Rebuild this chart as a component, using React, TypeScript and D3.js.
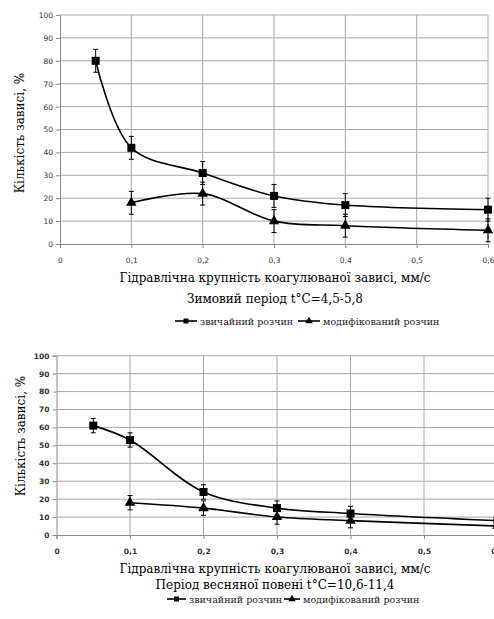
import * as d3 from "d3";
import { useEffect, useRef } from "react";

// x positions (mm/s)
const xTicks = [0, 0.1, 0.2, 0.3, 0.4, 0.5, 0.6];
const yTicks = [0, 10, 20, 30, 40, 50, 60, 70, 80, 90, 100];
const plainX = [0.05, 0.1, 0.2, 0.3, 0.4, 0.6];
const modX = [0.1, 0.2, 0.3, 0.4, 0.6];

// winter period
const winterPlain = [80, 42, 31, 21, 17, 15];
const winterMod = [18, 22, 10, 8, 6];
const winterErr = 5;

// spring flood period
const springPlain = [61, 53, 24, 15, 12, 8];
const springMod = [18, 15, 10, 8, 5];
const springErr = 4;

const xTitle = "Гідравлічна крупність коагулюваної зависі, мм/с";
const yTitle = "Кількість зависі, %";
const legendNames = ["звичайний розчин", "модифікований розчин"];

const serif = "DejaVu Serif, Liberation Serif, serif";
const sans = "DejaVu Sans, Verdana, sans-serif";

function drawPanel(svg, p) {
  const g = svg.append("g");
  const x = d3.scaleLinear().domain([0, 0.6]).range([p.left, p.right]);
  const y = d3.scaleLinear().domain([0, 100]).range([p.bottom, p.top]);

  // grid
  g.selectAll(".hg").data(yTicks.slice(1)).enter().append("line")
    .attr("x1", p.left).attr("x2", p.right)
    .attr("y1", (d) => y(d)).attr("y2", (d) => y(d))
    .attr("stroke", "#a8a8a8").attr("stroke-width", 1);
  g.selectAll(".vg").data(xTicks.slice(1)).enter().append("line")
    .attr("x1", (d) => x(d)).attr("x2", (d) => x(d))
    .attr("y1", p.top).attr("y2", p.bottom)
    .attr("stroke", "#a8a8a8").attr("stroke-width", 1);

  // axes
  const yAxis = g.append("g").attr("transform", `translate(${p.left},0)`)
    .call(d3.axisLeft(y).tickValues(yTicks).tickSize(4).tickPadding(3));
  const xAxis = g.append("g").attr("transform", `translate(0,${p.bottom})`)
    .call(d3.axisBottom(x).tickValues(xTicks).tickSize(4).tickPadding(p.xPad)
      .tickFormat((d) => String(d).replace(".", ",")));
  [yAxis, xAxis].forEach((a) => {
    a.select(".domain").attr("stroke", "#8c8c8c");
    a.selectAll(".tick line").attr("stroke", "#8c8c8c");
    a.selectAll("text").attr("fill", "#333")
      .attr("font-family", sans)
      .attr("font-size", p.tickSize)
      .attr("font-weight", p.tickWeight);
  });

  const line = d3.line().curve(d3.curveCatmullRom.alpha(0.5))
    .x((d) => x(d[0])).y((d) => y(d[1]));

  const series = [
    { xs: plainX, ys: p.plain, shape: "square" },
    { xs: modX, ys: p.mod, shape: "triangle" },
  ];
  series.forEach((s) => {
    const pts = s.xs.map((v, i) => [v, s.ys[i]]);
    g.append("path").datum(pts).attr("d", line)
      .attr("fill", "none").attr("stroke", "#000").attr("stroke-width", 1.6);
    // error bars
    pts.forEach(([vx, vy]) => {
      const cx = x(vx);
      g.append("line").attr("x1", cx).attr("x2", cx)
        .attr("y1", y(vy - p.err)).attr("y2", y(vy + p.err))
        .attr("stroke", "#000").attr("stroke-width", 1);
      [vy - p.err, vy + p.err].forEach((e) => {
        g.append("line").attr("x1", cx - 2.5).attr("x2", cx + 2.5)
          .attr("y1", y(e)).attr("y2", y(e))
          .attr("stroke", "#000").attr("stroke-width", 1);
      });
    });
    const sym = d3.symbol()
      .type(s.shape === "square" ? d3.symbolSquare : d3.symbolTriangle)
      .size(s.shape === "square" ? 64 : 48);
    g.selectAll(".m").data(pts).enter().append("path")
      .attr("d", sym)
      .attr("transform", (d) => `translate(${x(d[0])},${y(d[1])})`)
      .attr("fill", "#000");
  });

  // titles
  g.append("text").attr("x", p.titleX).attr("y", p.titleY)
    .attr("text-anchor", "middle").attr("font-family", serif)
    .attr("font-size", 12).text(xTitle);
  g.append("text").attr("x", p.titleX).attr("y", p.subY)
    .attr("text-anchor", "middle").attr("font-family", serif)
    .attr("font-size", 12).text(p.subtitle);
  g.append("text")
    .attr("transform", `translate(${p.yTitleX},${p.yTitleY}) rotate(-90)`)
    .attr("text-anchor", "middle").attr("font-family", serif)
    .attr("font-size", 12).text(yTitle);

  // legend
  p.legend.forEach((l, i) => {
    g.append("line").attr("x1", l.x1).attr("x2", l.x2)
      .attr("y1", p.legY).attr("y2", p.legY)
      .attr("stroke", "#000").attr("stroke-width", 1.6);
    const sym = d3.symbol().type(i === 0 ? d3.symbolSquare : d3.symbolTriangle)
      .size(i === 0 ? 25 : 24);
    g.append("path").attr("d", sym)
      .attr("transform", `translate(${(l.x1 + l.x2) / 2},${p.legY})`);
    g.append("text").attr("x", l.x2 + 3).attr("y", p.legY + 3.5)
      .attr("font-family", serif).attr("font-size", 9.5)
      .attr("fill", "#222").text(legendNames[i]);
  });
}

const App = () => {
  const ref = useRef(null);
  useEffect(() => {
    const svg = d3.select(ref.current);
    svg.selectAll("*").remove();
    drawPanel(svg, {
      left: 60, right: 488, top: 15, bottom: 244,
      plain: winterPlain, mod: winterMod, err: winterErr,
      tickSize: 7.5, tickWeight: "normal", xPad: 10,
      titleX: 275, titleY: 282, subY: 303,
      subtitle: "Зимовий період t°C=4,5-5,8",
      yTitleX: 24, yTitleY: 133,
      legY: 321,
      legend: [{ x1: 175, x2: 197 }, { x1: 298, x2: 320 }],
    });
    drawPanel(svg, {
      left: 56.5, right: 497.5, top: 355.7, bottom: 535,
      plain: springPlain, mod: springMod, err: springErr,
      tickSize: 7.5, tickWeight: "bold", xPad: 10,
      titleX: 275, titleY: 573, subY: 589,
      subtitle: "Період весняної повені t°C=10,6-11,4",
      yTitleX: 25, yTitleY: 436,
      legY: 599,
      legend: [{ x1: 167, x2: 186 }, { x1: 284, x2: 300 }],
    });
  }, []);
  return (
    <svg ref={ref} width={494} height={619}
      style={{ position: "absolute", left: 0, top: 0, background: "#fff" }} />
  );
};

export default App;
